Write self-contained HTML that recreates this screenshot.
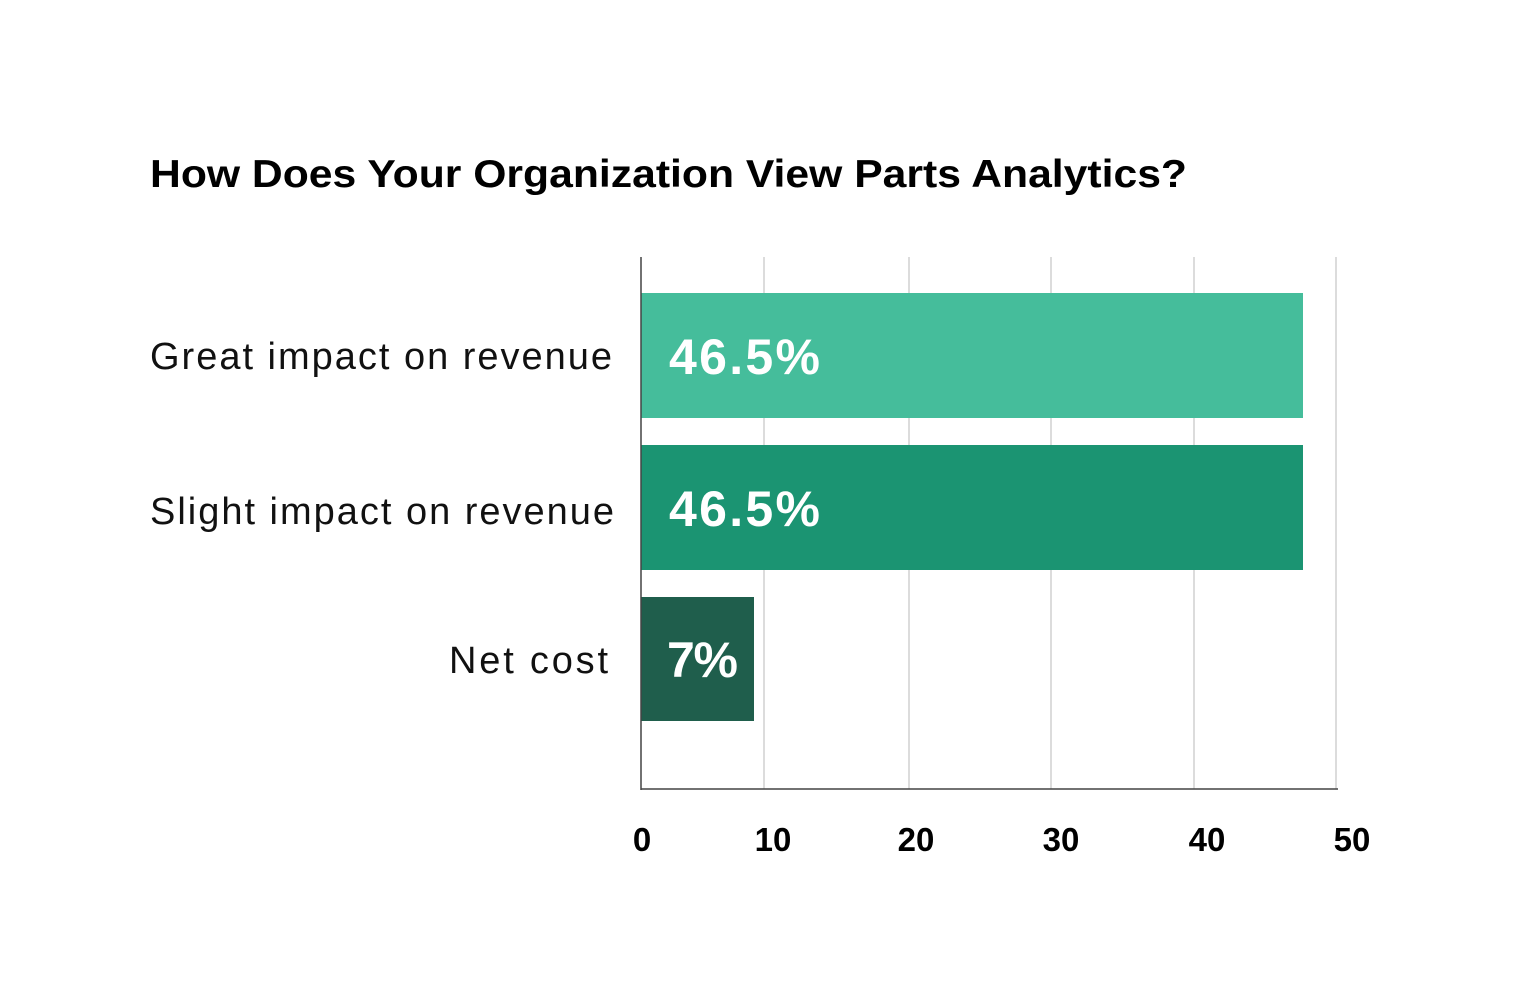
<!DOCTYPE html>
<html><head><meta charset="utf-8"><style>
html,body{margin:0;padding:0;background:#fff;}
svg{display:block;font-family:"Liberation Sans",sans-serif;}
</style></head><body>
<svg width="1536" height="982" viewBox="0 0 1536 982" xmlns="http://www.w3.org/2000/svg">
<rect width="1536" height="982" fill="#fff"/>
<text x="150" y="187" font-size="39" font-weight="bold" fill="#000" textLength="1037" lengthAdjust="spacingAndGlyphs">How Does Your Organization View Parts Analytics?</text>
<g stroke="#d0d0d0" stroke-width="1.5">
<line x1="764" y1="257" x2="764" y2="789"/>
<line x1="909" y1="257" x2="909" y2="789"/>
<line x1="1051" y1="257" x2="1051" y2="789"/>
<line x1="1194" y1="257" x2="1194" y2="789"/>
<line x1="1336" y1="257" x2="1336" y2="789"/>
</g>
<rect x="641" y="293" width="662" height="125" fill="#45BD9B"/>
<rect x="641" y="445" width="662" height="125" fill="#1B9472"/>
<rect x="641" y="597" width="113" height="124" fill="#1F5E4C"/>
<line x1="641" y1="257" x2="641" y2="790" stroke="#444" stroke-width="1.5"/>
<line x1="641" y1="789" x2="1338" y2="789" stroke="#444" stroke-width="1.5"/>
<g font-size="38" fill="#111" lengthAdjust="spacingAndGlyphs">
<text x="150" y="369" textLength="462">Great impact on revenue</text>
<text x="150" y="524" textLength="464">Slight impact on revenue</text>
<text x="449" y="673" textLength="159">Net cost</text>
</g>
<g font-size="50" font-weight="bold" fill="#fff" lengthAdjust="spacingAndGlyphs">
<text x="669" y="374" textLength="151">46.5%</text>
<text x="669" y="526" textLength="151">46.5%</text>
<text x="667" y="677" textLength="71">7%</text>
</g>
<g font-size="33" font-weight="bold" fill="#000" text-anchor="middle">
<text x="642" y="851">0</text>
<text x="773" y="851">10</text>
<text x="916" y="851">20</text>
<text x="1061" y="851">30</text>
<text x="1207" y="851">40</text>
<text x="1352" y="851">50</text>
</g>
</svg>
</body></html>
